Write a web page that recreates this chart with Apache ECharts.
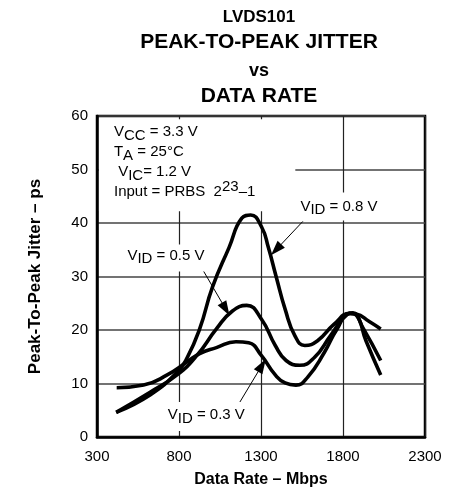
<!DOCTYPE html>
<html><head><meta charset="utf-8">
<script src="https://cdn.jsdelivr.net/npm/echarts@6/dist/echarts.min.js"></script>
<style>html,body{margin:0;padding:0;background:#fff}#c{width:459px;height:493px}</style>
</head><body><div id="c"></div>
<script>
const FONT = "'Liberation Sans', Arial, Helvetica, sans-serif";

const titleLines = ['LVDS101', 'PEAK-TO-PEAK JITTER', 'vs', 'DATA RATE'];
const xAxisTitle = 'Data Rate – Mbps';
const yAxisTitle = 'Peak-To-Peak Jitter – ps';
const xTicks = [300, 800, 1300, 1800, 2300];
const yTicks = [0, 10, 20, 30, 40, 50, 60];

// Data rate (Mbps), jitter (ps)
const vid03 = [[420, 9.2], [584, 9.7], [728, 11.6], [848, 14.0], [926, 15.6], [1028, 16.7], [1147, 17.8],
  [1225, 17.6], [1303, 15.2], [1387, 11.6], [1447, 10.1], [1513, 9.7], [1585, 11.2], [1686, 15.8],
  [1764, 20.2], [1840, 23.1], [1880, 23.0], [1960, 21.6], [2030, 20.2]];
const vid05 = [[417, 4.6], [626, 8.4], [788, 11.6], [908, 15.2], [1028, 20.2], [1124, 23.5], [1213, 24.6],
  [1303, 22.0], [1387, 17.1], [1453, 14.3], [1537, 13.4], [1627, 14.9], [1723, 18.9], [1825, 22.9],
  [1860, 23.2], [1920, 20.5], [2030, 14.3]];
const vid08 = [[417, 4.6], [626, 7.9], [788, 12.1], [848, 14.7], [926, 20.2], [1004, 28.0], [1105, 35.4],
  [1183, 40.9], [1237, 41.5], [1303, 39.3], [1345, 35.4], [1393, 29.9], [1447, 23.9], [1507, 18.9],
  [1567, 17.1], [1645, 18.0], [1746, 21.1], [1842, 23.1], [1880, 22.8], [1940, 18.0], [2030, 11.6]];

const conditionsText = '{n|V}{s|CC}{n| = 3.3 V}\n{n|T}{s|A}{n| = 25°C}\n{n| V}{s|IC}{n|= 1.2 V}\n{n|Input = PRBS  2}{p|23}{n|–1}';
const lab08 = '{n|V}{s|ID}{n| = 0.8 V}';
const lab05 = '{n|V}{s|ID}{n| = 0.5 V}';
const lab03 = '{n|V}{s|ID}{n| = 0.3 V}';

const rich = {
  n: {fontSize: 15, fontFamily: FONT, color: '#000', lineHeight: 20},
  s: {fontSize: 15, fontFamily: FONT, color: '#000', lineHeight: 20, padding: [7, 0, 0, 0]},
  p: {fontSize: 15, fontFamily: FONT, color: '#000', lineHeight: 20, padding: [0, 0, 10, 0]}
};

function boxLabel(text, pad) {
  return {show: true, position: [0, 0], formatter: text, rich: rich, backgroundColor: '#fff', padding: pad};
}

const chart = echarts.init(document.getElementById('c'), null, {renderer: 'canvas'});
const lineStyle = {color: '#000', width: 3.6};
const arrowEnd = {symbol: 'triangle', symbolSize: [10, 15]};

chart.setOption({
  animation: false,
  backgroundColor: '#fff',
  graphic: [
    {type: 'text', x: 259, y: 17, style: {text: titleLines[0], font: 'bold 17px ' + FONT, fill: '#000', align: 'center', verticalAlign: 'middle'}},
    {type: 'text', x: 259, y: 42, style: {text: titleLines[1], font: 'bold 21px ' + FONT, fill: '#000', align: 'center', verticalAlign: 'middle'}},
    {type: 'text', x: 259, y: 71, style: {text: titleLines[2], font: 'bold 18px ' + FONT, fill: '#000', align: 'center', verticalAlign: 'middle'}},
    {type: 'text', x: 259, y: 96, style: {text: titleLines[3], font: 'bold 21px ' + FONT, fill: '#000', align: 'center', verticalAlign: 'middle'}}
  ],
  grid: {left: 97, right: 34, top: 116, bottom: 51, show: true, borderColor: '#000', borderWidth: 2.5, backgroundColor: 'transparent'},
  xAxis: {
    type: 'value', min: xTicks[0], max: xTicks[xTicks.length - 1], interval: 500,
    name: xAxisTitle, nameLocation: 'middle', nameGap: 35,
    nameTextStyle: {fontFamily: FONT, fontSize: 16, fontWeight: 'bold', color: '#000'},
    axisLine: {show: true, lineStyle: {color: '#000', width: 2.5}},
    axisTick: {show: false},
    axisLabel: {fontFamily: FONT, fontSize: 15, color: '#000', margin: 12, formatter: v => String(v)},
    splitLine: {show: true, lineStyle: {color: '#222', width: 1.2}}
  },
  yAxis: {
    type: 'value', min: yTicks[0], max: yTicks[yTicks.length - 1], interval: 10,
    name: yAxisTitle, nameLocation: 'middle', nameGap: 53,
    nameTextStyle: {fontFamily: FONT, fontSize: 17, fontWeight: 'bold', color: '#000'},
    axisLine: {show: true, lineStyle: {color: '#000', width: 2.5}},
    axisTick: {show: false},
    axisLabel: {fontFamily: FONT, fontSize: 15, color: '#000', margin: 9, formatter: v => String(v)},
    splitLine: {show: true, lineStyle: {color: '#444', width: 1.5}}
  },
  series: [
    {name: 'VID = 0.3 V', type: 'line', data: vid03, smooth: 0.5, showSymbol: false, lineStyle: lineStyle, silent: true},
    {name: 'VID = 0.5 V', type: 'line', data: vid05, smooth: 0.5, showSymbol: false, lineStyle: lineStyle, silent: true},
    {name: 'VID = 0.8 V', type: 'line', data: vid08, smooth: 0.5, showSymbol: false, lineStyle: lineStyle, silent: true,
      markLine: {
        silent: true, animation: false, symbol: ['none', 'triangle'],
        label: {show: false},
        lineStyle: {color: '#000', width: 1, type: 'solid'},
        emphasis: {disabled: true},
        data: [
          [{coord: [1555, 40.3]}, Object.assign({coord: [1392, 35.0]}, arrowEnd)],
          [{coord: [944, 31.3]}, Object.assign({coord: [1085, 23.9]}, arrowEnd)],
          [{coord: [1147, 5.3]}, Object.assign({coord: [1306, 13.4]}, arrowEnd)]
        ]
      },
      markPoint: {
        silent: true, animation: false, symbol: 'rect', symbolSize: 1,
        itemStyle: {color: 'rgba(0,0,0,0)'},
        emphasis: {disabled: true},
        data: [
          {coord: [315, 59.3], label: boxLabel(conditionsText, [3, 40, 9, 15])},
          {coord: [1519, 45.6], label: boxLabel(lab08, [4, 6, 4, 4])},
          {coord: [470, 35.9], label: boxLabel(lab05, [1, 4, 6, 3])},
          {coord: [716, 6.44], label: boxLabel(lab03, [3, 4, 6, 3])}
        ]
      }
    }
  ]
});
</script></body></html>
